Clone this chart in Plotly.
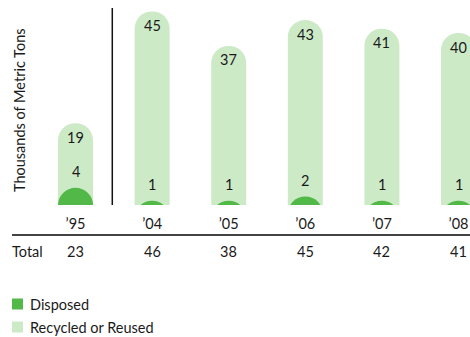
import plotly.graph_objects as go

years = ["\u201995", "\u201904", "\u201905", "\u201906", "\u201907", "\u201908"]
disposed = [4, 1, 1, 2, 1, 1]
recycled = [19, 45, 37, 43, 41, 40]
totals = [d + r for d, r in zip(disposed, recycled)]
legend_names = ["Disposed", "Recycled or Reused"]

FONT = "Lato"
FS = 14.5
TXT = "#1a1a1a"
LIGHT = "#cdeac7"
DARK = "#52b848"

W, H = 470, 337
PLOT_H = 205
PX_PER_UNIT = 4.3
YMAX = PLOT_H / PX_PER_UNIT
XRANGE = [-0.986, 5.15]
BAR_PX = 35  # bar width in pixels
UNIT_PX = W / (XRANGE[1] - XRANGE[0])


def py(ypx):
    return (PLOT_H - ypx) / PLOT_H


def px(xpx):
    return xpx / W


fig = go.Figure()
fig.add_trace(go.Bar(
    x=years, y=recycled, name=legend_names[1],
    marker=dict(color=LIGHT, cornerradius="50%", line=dict(width=0)),
    width=BAR_PX / UNIT_PX, showlegend=False,
))
# disposed: a dome (circle of bar width) whose top sits at the data value
r_units = (BAR_PX / 2) / PX_PER_UNIT
fig.add_trace(go.Scatter(
    x=years, y=[d - r_units for d in disposed], name=legend_names[0], mode="markers",
    marker=dict(color=DARK, size=BAR_PX, line=dict(width=0)),
    cliponaxis=True, showlegend=False,
    customdata=disposed, hovertemplate="%{x}: %{customdata}<extra>Disposed</extra>",
))

font = dict(family=FONT, size=FS, color=TXT)
ann = []
for x, r in zip(years, recycled):
    ann.append(dict(x=x, y=r, xref="x", yref="y", text=str(r), showarrow=False,
                    yshift=-14, yanchor="middle", font=font))
for x, d in zip(years, disposed):
    ann.append(dict(x=x, y=d, xref="x", yref="y", text=str(d), showarrow=False,
                    yshift=16, yanchor="middle", font=font))
for x, t in zip(years, totals):
    ann.append(dict(x=x, y=py(251), xref="x", yref="paper", text=str(t), showarrow=False,
                    yanchor="middle", font=font))
ann.append(dict(x=px(10), y=py(251), xref="paper", yref="paper", text="Total",
                showarrow=False, xanchor="left", yanchor="middle", font=font))
ann.append(dict(x=px(19), y=py(110), xref="paper", yref="paper",
                text="Thousands of Metric Tons", textangle=-90, showarrow=False,
                xanchor="center", yanchor="middle", font=font))

shapes = [
    dict(type="line", xref="x", yref="paper", x0=0.48, x1=0.48, y0=0, y1=py(8),
         line=dict(color="#111111", width=1.5)),
    dict(type="line", xref="paper", yref="paper", x0=px(12), x1=1, y0=py(235), y1=py(235),
         line=dict(color="#444444", width=2)),
]

# legend (drawn manually to match the compact layout)
for name, color, cy in [(legend_names[0], DARK, 304), (legend_names[1], LIGHT, 327)]:
    shapes.append(dict(type="rect", xref="paper", yref="paper",
                       x0=px(12), x1=px(23), y0=py(cy - 5.5), y1=py(cy + 5.5),
                       fillcolor=color, line=dict(width=0)))
    ann.append(dict(x=px(28), y=py(cy), xref="paper", yref="paper", text=name,
                    showarrow=False, xanchor="left", yanchor="middle", font=font))

fig.update_layout(
    width=W, height=H,
    margin=dict(l=0, r=0, t=0, b=H - PLOT_H, pad=0, autoexpand=False),
    paper_bgcolor="white", plot_bgcolor="white",
    barmode="overlay",
    showlegend=False,
    xaxis=dict(type="category", range=XRANGE, showgrid=False, zeroline=False,
               showline=False, ticks="", ticklabelstandoff=8, automargin=False,
               tickfont=font, fixedrange=True),
    yaxis=dict(range=[0, YMAX], visible=False, fixedrange=True),
    annotations=ann, shapes=shapes,
    font=dict(family=FONT),
)

fig.write_html("out.html")
